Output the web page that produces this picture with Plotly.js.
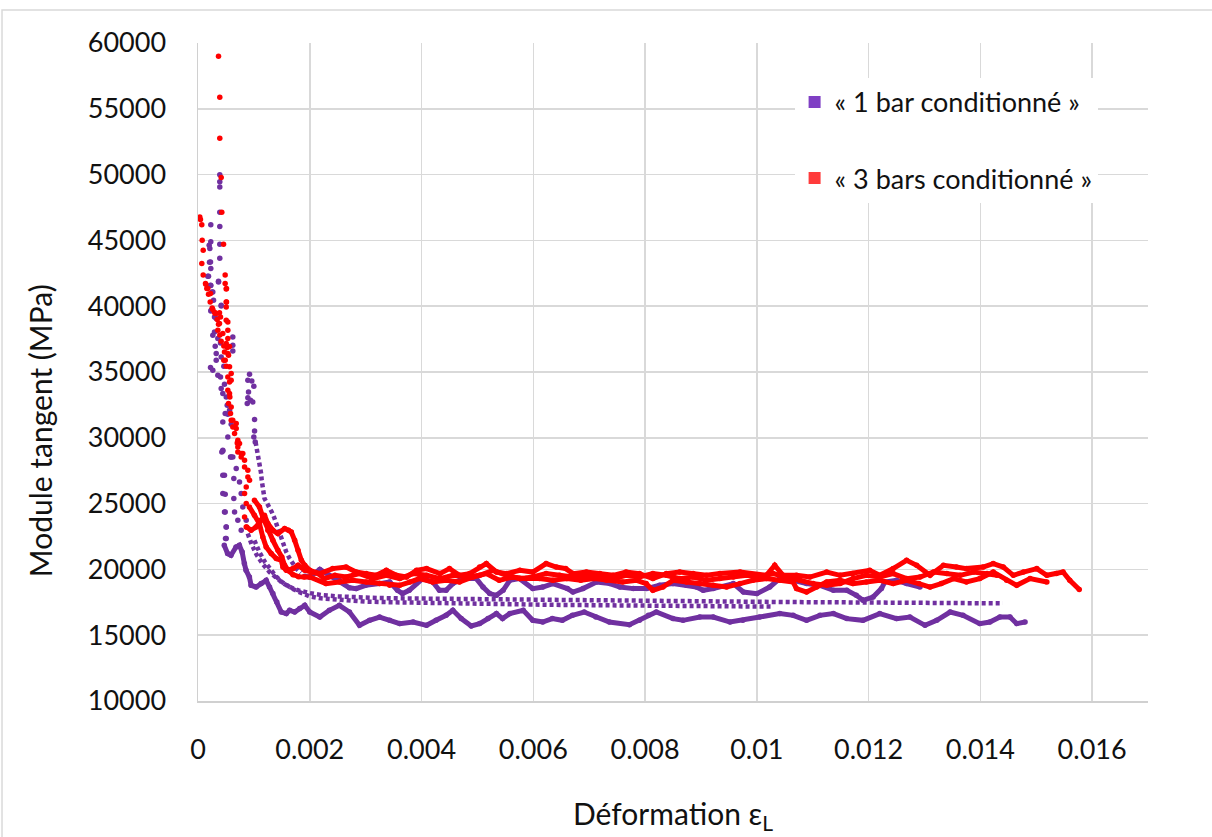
<!DOCTYPE html>
<html><head><meta charset="utf-8">
<script src="https://cdn.plot.ly/plotly-3.0.1.min.js"></script>
<style>html,body{margin:0;padding:0;background:#fff}#chart{width:1212px;height:837px}</style>
</head><body><div id="chart"></div>
<script>
// ---- series names, titles & ticks ----
const seriesNames = ['« 1 bar conditionné »', '« 3 bars conditionné »'];
const xTitle = 'Déformation ε<sub>L</sub>';
const yTitle = 'Module tangent (MPa)';
const xTickVals = [0, 0.002, 0.004, 0.006, 0.008, 0.01, 0.012, 0.014, 0.016];
const xTickText = ['0', '0.002', '0.004', '0.006', '0.008', '0.01', '0.012', '0.014', '0.016'];
const yTickVals = [10000, 15000, 20000, 25000, 30000, 35000, 40000, 45000, 50000, 55000, 60000];
const yTickText = ['10000', '15000', '20000', '25000', '30000', '35000', '40000', '45000', '50000', '55000', '60000'];

// ---- « 1 bar » : scattered early points ----
const purpleScatterX = [0.00039,0.00039,0.00039,0.00039,0.00039,0.00039,0.00039,0.000367,0.000415,
  0.000229,0.000229,0.0002,0.000212,0.000206,0.000229,0.000188,0.000229,0.000254,0.000278,0.000229,0.000326,
  0.000224,0.000175,0.000224,0.000265,0.000367,0.000415,0.000236,0.000295,0.000295,0.000265,0.000355,0.000403,
  0.000623,0.000623,0.000623,0.000308,0.000326,0.000326,0.000415,0.000462,0.000224,0.000265,0.000355,0.000403,
  0.000474,0.000415,0.000444,0.000505,0.000523,0.000487,0.000534,0.000444,0.000564,0.000594,0.000534,0.000444,0.000594,
  0.000922,0.000892,0.000963,0.000999,0.000904,0.000892,0.00094,0.000881,0.000981,0.001012,0.001012,0.000999,0.001024,
  0.000444,0.000444,0.000444,0.000474,0.000505,0.000492,0.000623,0.000684,0.000743,0.000773,0.000802,0.000863,
  0.000426,0.000582,0.000474,0.000641,0.000487,0.000641,0.000487,0.000654,0.000505,0.000713,0.000505,0.000773];
const purpleScatterY = [49980,49450,49060,47140,46050,44710,43650,41900,40020,
  46180,44890,44630,44380,43340,42860,42280,41570,41080,40450,39640,39060,
  43360,42280,41590,41080,41840,40070,39690,39180,38040,37790,37540,37210,
  37660,37030,36600,36960,36400,35890,36140,35440,35340,35130,34750,34620,
  34070,33740,33360,33100,32470,31840,31790,31200,32090,31030,30060,29000,28540,
  34830,34370,34320,33920,33480,33050,32850,32600,32720,31390,30520,30060,29680,
  29050,27150,25760,24360,23220,22340,28540,27660,26650,25760,24740,23730,
  28920,28540,27150,26900,25710,25380,24360,24360,23220,23730,22340,22970];

// ---- « 1 bar » : lowest curve ----
const p1X = [0.00047,0.00053,0.00059,0.00068,0.00074,0.00079,0.00083,0.00086,0.00092,0.00095,0.00104,0.00113,0.00122,0.00128,
  0.00134,0.00141,0.00149,0.00158,0.00164,0.00173,0.00182,0.00191,0.00200,0.00218,0.00235,0.00253,0.00271,0.00289,0.00307,
  0.00325,0.00343,0.00361,0.00385,0.00409,0.00426,0.00444,0.00456,0.00471,0.00489,0.00504,0.00519,0.00534,0.00545,0.00558,
  0.00582,0.00599,0.00617,0.00634,0.00652,0.00670,0.00691,0.00712,0.00736,0.00772,0.00790,0.00806,0.00820,0.00850,0.00868,
  0.00898,0.00922,0.00952,0.00975,0.01005,0.01041,0.01065,0.01089,0.01113,0.01137,0.01161,0.01190,0.01220,0.01250,0.01274,
  0.01301,0.01322,0.01346,0.01369,0.01399,0.01417,0.01435,0.01453,0.01465,0.01480];
const p1Y = [21830,21200,21070,21700,21830,21320,20440,19930,19420,18790,18660,18920,19170,18660,
  18160,17520,16760,16640,16890,16760,17020,17270,16760,16380,16890,17270,16760,15750,16130,
  16380,16130,15880,16000,15750,16130,16510,16890,16260,15700,15880,16260,16640,16260,16640,
  16890,16130,16000,16260,16130,16510,16760,16380,16000,15800,16130,16510,16760,16260,16130,
  16380,16380,16000,16130,16380,16640,16510,16130,16510,16640,16260,16130,16640,16260,16380,
  15750,16130,16760,16510,15880,16000,16380,16380,15880,16000];

// ---- « 1 bar » : two smooth dotted curves ----
const p2X = [0.00089,0.00096,0.00105,0.00116,0.00128,0.0014,0.00152,0.00165,0.0018,0.002,0.0022,0.0025,0.0028,0.0032,0.0036,
  0.004,0.0045,0.005,0.0055,0.006,0.0065,0.007,0.0075,0.008,0.0085,0.009,0.0095,0.01,0.0105,0.011,0.0115,0.012,0.0125,
  0.013,0.0135,0.014,0.0144];
const p2Y = [22720,21900,21100,20400,19800,19350,18950,18650,18400,18200,18050,17950,17880,17830,17800,
  17780,17760,17740,17720,17700,17680,17650,17620,17600,17580,17560,17540,17530,17520,17510,17500,17480,17470,
  17450,17440,17430,17420];
const p3X = [0.00101,0.0011,0.0012,0.0013,0.0014,0.0015,0.0016,0.0017,0.0018,0.0019,0.002,0.0022,0.0025,0.0028,0.003,
  0.0035,0.004,0.0045,0.005,0.0055,0.006,0.0065,0.007,0.0075,0.008,0.0085,0.009,0.0095,0.01,0.0103];
const p3Y = [22210,21300,20550,19950,19450,19050,18750,18500,18300,18100,17950,17800,17680,17600,17550,
  17500,17450,17420,17400,17370,17330,17300,17280,17250,17230,17220,17200,17190,17180,17170];

// ---- « 1 bar » : upper wavy curve ----
const p4X = [0.00103,0.00107,0.0011,0.00111,0.00113,0.00114,0.00116,0.00117,0.00119,0.00124,0.00128,0.00132,0.00136,0.0014,
  0.00144,0.00148,0.0015,0.00154,0.00158,0.00164,0.0017,0.00176,0.00184,0.00191,0.002,0.00218,0.00235,0.00253,0.00271,
  0.00283,0.003,0.00325,0.00343,0.00357,0.00366,0.00378,0.0039,0.00402,0.0042,0.00432,0.00444,0.00456,0.00474,0.00498,
  0.0051,0.00522,0.00534,0.00546,0.00558,0.00575,0.00599,0.00617,0.00635,0.00661,0.00671,0.00689,0.00713,0.00737,0.00755,
  0.00779,0.00803,0.00826,0.0085,0.00874,0.00892,0.00904,0.00922,0.00958,0.00976,0.01,0.01023,0.01041,0.01065,0.01089,
  0.01113,0.01137,0.01161,0.01178,0.0119,0.01208,0.01223,0.01229,0.0125,0.01268,0.01292];
const p4Y = [29680,28800,28290,27780,27280,26770,26260,25760,25380,25000,24740,24360,23980,23480,
  23030,22590,22210,21700,21320,20820,20440,20060,19730,19480,19420,20000,19550,19170,18600,
  18540,18790,18920,19040,18410,18160,18410,18920,19300,19040,18410,18410,18920,19300,19300,
  18660,18160,18030,18410,19170,19300,18540,18660,18920,18540,18280,18540,19040,18920,18660,
  18540,18540,18790,18920,18790,18660,18410,18540,18920,18280,18160,18660,19300,19170,18920,
  18790,18410,18410,18030,17650,17900,18540,19040,19170,18920,18660];

// ---- « 3 bars » : scattered early points ----
const redScatterX = [0.000032,0.000044,0.000068,0.000075,0.000093,0.000068,0.000093,0.000134,0.000158,0.000188,0.000218,0.000254,0.000295,0.000385,0.000403,
  0.000367,0.00039,0.00039,0.000415,0.000426,0.000457,
  0.000486,0.000486,0.000505,0.000505,0.000505,
  0.00014,0.000176,0.000224,0.000265,0.000308,0.000344,0.000367,0.000355,0.00039,0.000415,0.000462,0.000474,0.000462,0.000505,
  0.000534,0.000564,0.000534,0.00057,0.000546,0.000582,0.000594,0.000623,0.000654,0.000702,0.000713,0.000773,
  0.00051,0.00051,0.000534,0.000534,0.000534,0.000523,0.000546,0.000487,
  0.000326,0.000385,0.000444,0.000505,0.000534,0.000564,0.000594,0.000564,0.000594,0.000623,0.000684,0.000713,0.000802,0.000833,0.000922,
  0.000505,0.000564,0.000594,0.000684,0.000743,
  0.000713,0.000773,0.000833,0.000892,0.000892,0.000863,0.000833,0.000863,0.000833,0.000863];
const redScatterY = [46780,46590,46180,45010,44250,43240,42380,41720,41340,40910,40320,39870,39540,39500,39180,
  59000,55880,52765,49780,47140,44710,
  42380,41720,41310,40320,39940,
  41670,41340,40960,39750,39440,38990,38630,38170,37820,37340,36980,36520,35890,35440,
  34620,34240,33610,33100,32600,31840,31330,30820,30320,29610,28920,28540,
  41340,40320,38800,38170,37540,36860,36270,35890,
  39440,38680,37920,37160,36400,35390,34370,33360,32340,31330,30700,29810,28800,27780,26770,
  38930,36930,34880,31080,29560,
  29300,28800,28290,27530,27020,26260,25760,25000,23980,23220];

// ---- « 3 bars » : three wavy curves ----
const r1X = [0.00087,0.00095,0.00104,0.00113,0.00119,0.00125,0.00134,0.00143,0.00155,0.00162,0.00167,0.00173,0.00179,0.00185,
  0.00191,0.002,0.00218,0.00241,0.00265,0.00283,0.00301,0.00319,0.00337,0.00355,0.00373,0.00391,0.00409,0.00433,0.0045,
  0.00468,0.00486,0.00504,0.00516,0.00534,0.00552,0.00576,0.00599,0.00623,0.00641,0.00658,0.00671,0.00695,0.00719,0.00743,
  0.00766,0.0079,0.00814,0.00838,0.00862,0.00886,0.0091,0.00934,0.0097,0.01017,0.01032,0.01047,0.01071,0.01095,0.01125,
  0.01149,0.01172,0.01202,0.0122,0.01244,0.01268,0.01286,0.0131,0.01334,0.01357,0.01375,0.01405,0.01423,0.01441,0.01459,
  0.01477,0.01501,0.01519,0.01536,0.01548,0.0156,0.01577];
const r1Y = [23220,22970,23220,23730,24110,23480,22970,22720,23100,22970,22840,22210,21450,20690,
  20310,19930,19680,20060,20180,19800,19680,19550,19930,19550,19420,19930,20060,19680,20060,
  19550,19680,20180,20440,19800,19680,19930,19800,20440,20180,20060,19680,19800,19680,19550,
  19800,19680,19300,19680,19800,19680,19550,19680,19800,19550,20310,19550,19550,19420,19800,
  19550,19680,19930,19550,20060,20690,20310,19550,20310,20180,20060,20180,20440,20180,19550,
  19800,20060,19550,19680,19800,19170,18470];
const r2X = [0.00101,0.0011,0.00116,0.00125,0.00134,0.00143,0.0015,0.00155,0.00162,0.0017,0.0018,0.0019,0.002,0.00229,
  0.00253,0.00277,0.00301,0.00325,0.00343,0.00361,0.00379,0.00396,0.0042,0.00444,0.00468,0.00492,0.00516,0.00539,0.00563,
  0.00587,0.00611,0.00635,0.0066,0.00685,0.00709,0.00731,0.0076,0.00785,0.00802,0.00814,0.00832,0.0085,0.00874,0.00898,
  0.00922,0.00946,0.0097,0.00993,0.01017,0.01041,0.01065,0.01071,0.01089,0.01107,0.01125,0.01149,0.01172,0.01196,0.0122,
  0.01244,0.01268,0.0129,0.0131,0.0133,0.01352,0.01375,0.01399,0.01423,0.01447,0.01465,0.01489,0.01519];
const r2Y = [25250,24740,23980,22970,22210,21450,20940,20310,19900,19600,19450,19420,19420,18920,
  19040,19170,19040,18920,18790,18790,19040,19300,19040,19170,19040,19420,19680,19170,19420,
  19300,19300,19170,19300,19170,19300,19170,19040,19170,18920,18410,18660,19170,19040,18920,
  18790,18660,18920,19170,19300,19170,19040,18540,18280,18660,19040,19170,18920,19040,19170,
  18920,19170,18920,18660,18920,19300,19040,19300,19800,19170,18790,19300,19040];
const r3X = [0.00092,0.00101,0.0011,0.00116,0.00122,0.00131,0.0014,0.00149,0.00152,0.00158,0.0017,0.00179,0.00191,0.00203,
  0.00215,0.00226,0.00245,0.00265,0.00289,0.00313,0.00337,0.00361,0.00385,0.00409,0.00433,0.00456,0.0048,0.00504,0.00528,
  0.00552,0.00576,0.00599,0.00623,0.00647,0.00671,0.00695,0.00719,0.00743,0.00766,0.0079,0.00814,0.00838,0.00862,0.00886,
  0.0091,0.00934,0.00958,0.00982,0.01005,0.01029,0.01053,0.01077,0.01101,0.01125,0.01149,0.01172,0.01196,0.0122,0.01244,
  0.01268,0.01292,0.01316,0.0134,0.01364,0.01388,0.01412,0.0143];
const r3Y = [24740,24110,23480,22460,21700,21200,20820,20690,20180,19930,20060,20310,19930,19800,
  19680,19300,19550,19420,19680,19300,19550,19300,19680,19550,19300,19550,19420,19550,19930,
  19550,19300,19420,19680,19550,19420,19550,19420,19300,19550,19420,19680,19550,19300,19420,
  19170,19300,19420,19550,19420,19680,19420,19170,18920,18790,18920,19300,19550,19420,19680,
  19300,19420,19800,19680,19550,19800,19680,19550];

// ---- styles ----
const PURPLE = '#7030A0';
const RED = '#FF0000';
const FONT = 'Lato, "Liberation Sans", Arial, sans-serif';
const TXT = '#111';

function dots(x, y, color) {
  return {x: x, y: y, type: 'scatter', mode: 'markers', showlegend: false, hoverinfo: 'skip',
    marker: {color: color, size: 5.5}};
}
function thick(x, y, color) {
  return {x: x, y: y, type: 'scatter', mode: 'lines+markers', showlegend: false, hoverinfo: 'skip',
    line: {color: color, width: 5}, marker: {color: color, size: 5.5}};
}
function dotted(x, y, color) {
  return {x: x, y: y, type: 'scatter', mode: 'lines', showlegend: false, hoverinfo: 'skip',
    line: {color: color, width: 4.5, dash: '4px,3px'}};
}
// the upper « 1 bar » curve: its steep start is sparse, its plateau dense
const p4StartX = p4X.filter(v => v <= 0.0019);
const p4StartY = p4Y.filter((v, i) => p4X[i] <= 0.0019);
const p4PlateauX = p4X.filter(v => v >= 0.0019);
const p4PlateauY = p4Y.filter((v, i) => p4X[i] >= 0.0019);

const traces = [
  dots(purpleScatterX, purpleScatterY, PURPLE),
  thick(p1X, p1Y, PURPLE),
  dotted(p2X, p2Y, PURPLE),
  dotted(p3X, p3Y, PURPLE),
  dotted(p4StartX, p4StartY, PURPLE),
  thick(p4PlateauX, p4PlateauY, PURPLE),
  dots(redScatterX, redScatterY, RED),
  thick(r1X, r1Y, RED),
  thick(r2X, r2Y, RED),
  thick(r3X, r3Y, RED),
  {x: [null], y: [null], type: 'scatter', mode: 'markers', name: seriesNames[0], legendgroup: 'a',
    marker: {color: '#7F3FC4', size: 12, symbol: 'square'}},
  {x: [null], y: [null], type: 'scatter', mode: 'markers', name: seriesNames[1], legendgroup: 'b',
    marker: {color: '#FF3B3B', size: 12, symbol: 'square'}}
];

const layout = {
  width: 1212, height: 837,
  margin: {l: 198, r: 64, t: 43, b: 136, pad: 0},
  paper_bgcolor: '#fff', plot_bgcolor: '#fff',
  font: {family: FONT, size: 27, color: TXT},
  showlegend: true,
  legend: {x: 0.628, y: 0.947, xanchor: 'left', yanchor: 'top', bgcolor: '#fff',
    font: {family: FONT, size: 27, color: TXT}, traceorder: 'grouped', tracegroupgap: 38},
  xaxis: {range: [0, 0.017], tickmode: 'array', tickvals: xTickVals, ticktext: xTickText,
    showgrid: true, gridcolor: '#d9d9d9', gridwidth: 1.5, zeroline: false,
    showline: true, linecolor: '#d0d0d0', linewidth: 1.5, ticks: '', ticklabelstandoff: 24,
    tickfont: {family: FONT, size: 27, color: TXT},
    title: {text: xTitle, font: {family: FONT, size: 30, color: TXT}, standoff: 40}},
  yaxis: {range: [10000, 60000], tickmode: 'array', tickvals: yTickVals, ticktext: yTickText,
    showgrid: true, gridcolor: '#d9d9d9', gridwidth: 1.5, zeroline: false,
    showline: true, linecolor: '#d0d0d0', linewidth: 1.5, ticks: '', ticklabelstandoff: 25,
    tickfont: {family: FONT, size: 27, color: TXT}},
  annotations: [{text: yTitle, xref: 'paper', yref: 'paper', x: -0.1663, y: 0.41,
    xanchor: 'center', yanchor: 'middle', textangle: -90, showarrow: false,
    font: {family: FONT, size: 30, color: TXT}}],
  shapes: [{type: 'rect', xref: 'paper', yref: 'paper', x0: -0.2063, x1: 1.12, y0: -0.26, y1: 1.0502,
    line: {color: '#d9d9d9', width: 1.5}, fillcolor: 'rgba(0,0,0,0)', layer: 'below'}]
};

Plotly.newPlot('chart', traces, layout, {displayModeBar: false, staticPlot: true});
</script>
</body></html>
